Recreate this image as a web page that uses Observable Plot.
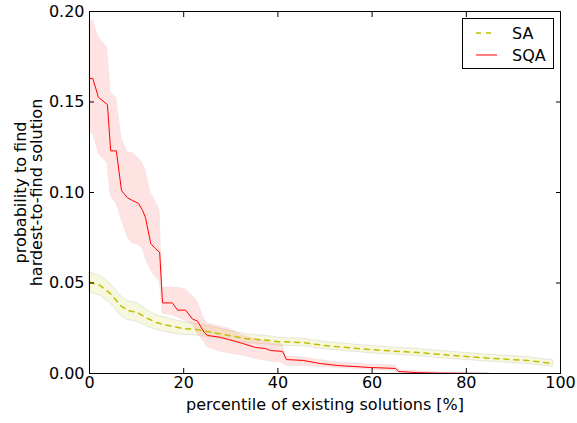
<!DOCTYPE html>
<html><head><meta charset="utf-8">
<script src="https://cdn.jsdelivr.net/npm/d3@7"></script>
<script src="https://cdn.jsdelivr.net/npm/@observablehq/plot@0.6"></script>
<style>body{margin:0;background:#fff} #chart{width:577px;height:423px}</style>
</head><body><div id="chart"></div>
<script>
// ---- data ----
const seriesNames = ["SA", "SQA"];
const xTicks = [0, 20, 40, 60, 80, 100];
const yTicks = [0, 0.05, 0.10, 0.15, 0.20];

const saX    = [0, 2.3, 4.5, 6.6, 8.1, 10.2, 12.3, 14.4, 16.8, 19.7, 22.5, 26.1, 33.1, 38.4, 40.1, 45.4, 49.7, 56.9, 62.4, 69.6, 77.3, 85.8, 93.0, 98.5];
const saMean = [0.0505, 0.0486, 0.044, 0.0376, 0.0348, 0.0337, 0.0304, 0.028, 0.0265, 0.0249, 0.0243, 0.0227, 0.0193, 0.0182, 0.0176, 0.0171, 0.0155, 0.0138, 0.0127, 0.0116, 0.0099, 0.0083, 0.0072, 0.0055];
const saHi   = [0.0558, 0.054, 0.0495, 0.043, 0.040, 0.039, 0.035, 0.032, 0.0305, 0.0285, 0.0275, 0.0257, 0.0218, 0.0205, 0.0198, 0.0192, 0.0176, 0.0158, 0.0147, 0.0136, 0.0119, 0.0102, 0.0091, 0.0073];
const saLo   = [0.0448, 0.043, 0.0385, 0.032, 0.0296, 0.0285, 0.0258, 0.024, 0.0225, 0.0213, 0.0211, 0.0197, 0.0168, 0.0159, 0.0154, 0.015, 0.0134, 0.0118, 0.0107, 0.0096, 0.0079, 0.0064, 0.0053, 0.0037];

const sqaX    = [0, 0.7, 1.9, 3.8, 4.5, 5.7, 6.8, 8.1, 9.1, 10.4, 11.3, 11.9, 13.0, 14.0, 14.9, 15.5, 17.6, 18.7, 20.4, 21.9, 22.9, 24.4, 25.1, 27.8, 29.5, 32.5, 35.2, 37.4, 38.4, 41.0, 41.8, 45.4, 49.0, 52.7, 59.7, 65.0, 65.6, 69.6, 73.9, 85.0];
const sqaMean = [0.163, 0.163, 0.1525, 0.1486, 0.123, 0.123, 0.101, 0.097, 0.0956, 0.094, 0.090, 0.086, 0.0718, 0.069, 0.067, 0.039, 0.039, 0.035, 0.035, 0.030, 0.029, 0.0225, 0.021, 0.020, 0.0188, 0.0166, 0.0144, 0.0138, 0.0127, 0.0122, 0.0077, 0.0072, 0.0055, 0.0044, 0.0033, 0.0028, 0.0011, 0.0005, 0.0002, 0.0];
const sqaHi   = [0.195, 0.195, 0.186, 0.180, 0.155, 0.1525, 0.13, 0.122, 0.122, 0.119, 0.116, 0.112, 0.100, 0.095, 0.090, 0.0475, 0.0475, 0.0475, 0.0465, 0.043, 0.040, 0.030, 0.0276, 0.026, 0.025, 0.021, 0.019, 0.018, 0.017, 0.016, 0.0095, 0.0088, 0.0075, 0.0062, 0.005, 0.0045, 0.002, 0.0012, 0.0008, 0.0002];
const sqaLo   = [0.133, 0.133, 0.1215, 0.116, 0.098, 0.094, 0.085, 0.075, 0.072, 0.071, 0.069, 0.0635, 0.057, 0.053, 0.051, 0.033, 0.032, 0.031, 0.029, 0.027, 0.022, 0.017, 0.0144, 0.012, 0.011, 0.010, 0.008, 0.007, 0.0065, 0.006, 0.004, 0.0042, 0.0035, 0.003, 0.002, 0.0015, 0.0003, 0.0, 0.0, 0.0];

const colors = {SA: "#bfbf00", SQA: "#ff0000"};

const sa = saX.map((x, i) => ({x, y: saMean[i], lo: saLo[i], hi: saHi[i]}));
const sqa = sqaX.map((x, i) => ({x, y: sqaMean[i], lo: sqaLo[i], hi: sqaHi[i]}));

const font = "'DejaVu Sans', sans-serif";
const fs = 16;

const plot = Plot.plot({
  width: 577, height: 423,
  marginLeft: 89, marginRight: 17, marginTop: 11, marginBottom: 50,
  style: {fontFamily: font, fontSize: fs + "px", color: "#000", background: "#fff", overflow: "visible"},
  x: {domain: [0, 100]},
  y: {domain: [0, 0.2]},
  marks: [
    Plot.areaY(sa, {x: "x", y1: "lo", y2: "hi", fill: colors.SA, fillOpacity: 0.13, stroke: "#888", strokeOpacity: 0.18, strokeWidth: 1}),
    Plot.areaY(sqa, {x: "x", y1: "lo", y2: "hi", fill: colors.SQA, fillOpacity: 0.11, stroke: "#888", strokeOpacity: 0.08, strokeWidth: 1}),
    Plot.lineY(sa, {x: "x", y: "y", stroke: colors.SA, strokeWidth: 1.5, strokeDasharray: "5,5"}),
    Plot.lineY(sqa, {x: "x", y: "y", stroke: colors.SQA, strokeWidth: 1}),
    Plot.frame({stroke: "#000", strokeWidth: 1}),
    Plot.axisX({anchor: "bottom", ticks: xTicks, tickSize: -5, tickPadding: 8, tickFormat: d => String(d), fontSize: fs,
      label: "percentile of existing solutions [%]", labelAnchor: "center", labelOffset: 36, labelArrow: "none"}),
    Plot.axisX({anchor: "top", ticks: xTicks, tickSize: -5, tickFormat: () => "", label: null}),
    Plot.axisY({anchor: "left", ticks: yTicks, tickSize: -5, tickPadding: 10, tickFormat: d3.format(".2f"), fontSize: fs,
      label: "probability to find\nhardest-to-find solution", labelAnchor: "center", labelOffset: 75, labelArrow: "none"}),
    Plot.axisY({anchor: "right", ticks: yTicks, tickSize: -5, tickFormat: () => "", label: null})
  ]
});
document.getElementById("chart").appendChild(plot);

// legend
const svg = d3.select(plot);
const lg = svg.append("g").attr("font-family", font).attr("font-size", fs).attr("text-anchor", "start");
lg.append("rect").attr("x", 462.5).attr("y", 18.5).attr("width", 91).attr("height", 50)
  .attr("fill", "#fff").attr("stroke", "#000").attr("stroke-width", 1);
seriesNames.forEach((name, i) => {
  const yy = 33 + i * 22;
  lg.append("line").attr("x1", 476).attr("x2", name === "SA" ? 493 : 497).attr("y1", yy).attr("y2", yy)
    .attr("stroke", colors[name]).attr("stroke-width", name === "SA" ? 1.5 : 1)
    .attr("stroke-dasharray", name === "SA" ? "5,5" : null);
  lg.append("text").attr("x", 512).attr("y", yy).attr("dy", "0.35em").attr("fill", "#000").text(name);
});
</script>
</body></html>
